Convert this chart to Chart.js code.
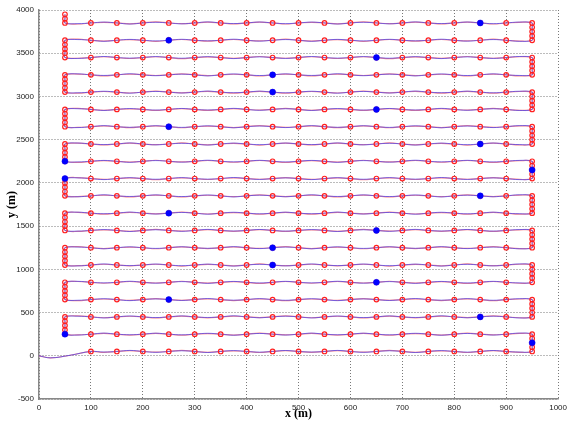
<!DOCTYPE html>
<html>
<head>
<meta charset="utf-8">
<script src="https://cdn.jsdelivr.net/npm/chart.js@4.4.0/dist/chart.umd.min.js"></script>
<style>html,body{margin:0;padding:0;background:#fff;}</style>
</head>
<body>
<canvas id="c" width="571" height="424"></canvas>
<script>
// survey rows (y, m) and waypoint columns (x, m)
var rowY = [50, 250, 450, 650, 850, 1050, 1250, 1450, 1650, 1850, 2050, 2250, 2450, 2650, 2850, 3050, 3250, 3450, 3650, 3850];
var colX = [50, 100, 150, 200, 250, 300, 350, 400, 450, 500, 550, 600, 650, 700, 750, 800, 850, 900, 950];
var turnSteps = [50, 100, 150];      // extra waypoints on each turn between rows
var finalSteps = [50, 100];          // climb after the last row
var leadIn = [[0, 0], [22, -24], [60, 6]];

// highlighted (blue) waypoints
var blueX = [950, 50, 850, 250, 650, 450, 450, 650, 250, 850, 950, 50, 50, 850, 250, 650, 450, 450, 650, 250, 850];
var blueY = [150, 250, 450, 650, 850, 1050, 1250, 1450, 1650, 1850, 2150, 2050, 2250, 2450, 2650, 2850, 3050, 3250, 3450, 3650, 3850];

// small lateral deviation of the tracks between waypoints (m)
var wiggleRed = [-11, 9, -8, 12, -10, 7, -12, 9];
var wiggleBlue = [-7, 12, -10, 8, -12, 10, -8, 11];

var route = [];
rowY.forEach(function (y, k) {
  var xs = (k % 2 === 0) ? colX.slice() : colX.slice().reverse();
  if (k === 0) xs = xs.filter(function (x) { return x >= 100; });
  xs.forEach(function (x) { route.push({x: x, y: y}); });
  var endX = xs[xs.length - 1];
  var steps = (k < rowY.length - 1) ? turnSteps : finalSteps;
  steps.forEach(function (s) { route.push({x: endX, y: y + s}); });
});

function track(wig) {
  var pts = leadIn.map(function (p) { return {x: p[0], y: p[1]}; });
  var n = 0;
  for (var i = 0; i < route.length; i++) {
    var p = route[i];
    pts.push(p);
    var q = route[i + 1];
    if (q && q.y === p.y) {
      pts.push({x: (p.x + q.x) / 2, y: p.y + wig[n % wig.length]});
      n++;
    }
  }
  return pts;
}

var blue = blueX.map(function (x, i) { return {x: x, y: blueY[i]}; });

var tickFont = {family: 'Liberation Sans', size: 8};
var titleFont = {family: 'Liberation Serif', size: 12, weight: 'bold'};
var plain = function (v) { return String(v); };

new Chart(document.getElementById('c'), {
  type: 'scatter',
  data: {
    datasets: [
      {data: track(wiggleRed), showLine: true, borderColor: 'rgba(255,80,80,0.7)', borderWidth: 1.2,
       pointRadius: 0, tension: 0.4, order: 4},
      {data: track(wiggleBlue), showLine: true, borderColor: 'rgba(70,70,240,0.75)', borderWidth: 1,
       pointRadius: 0, tension: 0.4, order: 3},
      {data: route, showLine: false, pointRadius: 2.3, pointBorderWidth: 1.2,
       pointBorderColor: '#ff2020', pointBackgroundColor: 'rgba(255,255,255,0)', order: 2},
      {data: blue, showLine: false, pointRadius: 3, pointBorderWidth: 0.5,
       pointBorderColor: '#0000ff', pointBackgroundColor: '#0000ff', order: 1}
    ]
  },
  options: {
    responsive: false,
    animation: false,
    layout: {padding: {top: 10, right: 6, left: 0, bottom: 0}},
    plugins: {legend: {display: false}, tooltip: {enabled: false}},
    scales: {
      x: {
        type: 'linear', min: 0, max: 1000,
        ticks: {stepSize: 100, padding: 4, color: '#222', font: tickFont, callback: plain},
        grid: {color: '#555', lineWidth: 0.8, drawTicks: false},
        border: {color: '#888', width: 1.5, dash: [1, 2]},
        title: {display: true, text: 'x (m)', color: '#000', padding: {top: 0, bottom: 3}, font: titleFont},
        afterFit: function (s) { s.height = 25; }
      },
      y: {
        type: 'linear', min: -500, max: 4000,
        ticks: {stepSize: 500, padding: 5, color: '#222', font: tickFont, callback: plain},
        grid: {color: '#555', lineWidth: 0.8, drawTicks: false},
        border: {color: '#888', width: 1.5, dash: [1, 2]},
        title: {display: true, text: 'y (m)', color: '#000', padding: {top: 5, bottom: 0}, font: titleFont},
        afterFit: function (s) { s.width = 39; }
      }
    }
  }
});
</script>
</body>
</html>
